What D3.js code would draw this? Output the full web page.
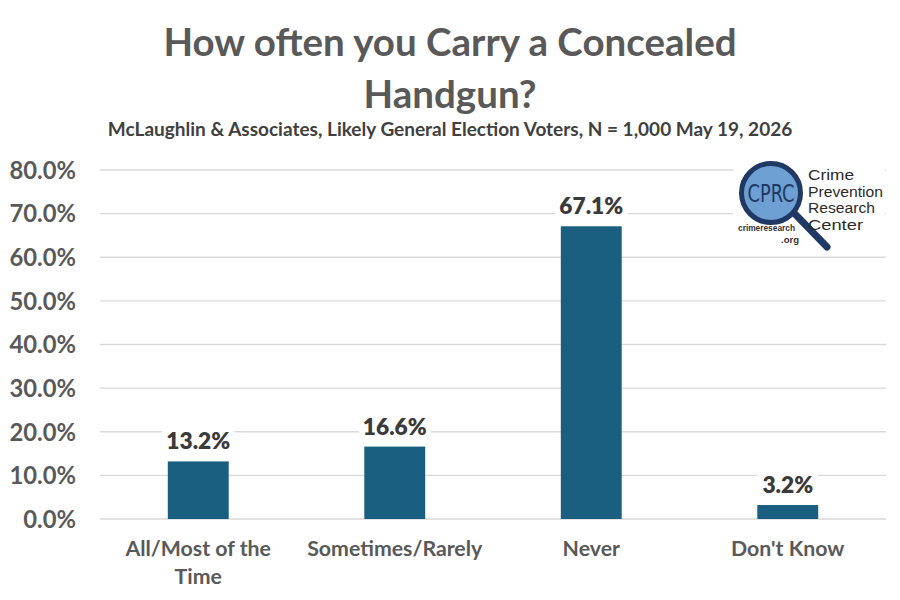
<!DOCTYPE html>
<html><head><meta charset="utf-8">
<script src="https://cdn.jsdelivr.net/npm/d3@7"></script>
<style>body{margin:0;background:#fff}svg{display:block}</style>
</head><body>
<svg id="c" width="900" height="600"></svg>
<script>
const categories = ["All/Most of the Time", "Sometimes/Rarely", "Never", "Don't Know"];
const categoryLines = [["All/Most of the", "Time"], ["Sometimes/Rarely"], ["Never"], ["Don't Know"]];
const values = [13.2, 16.6, 67.1, 3.2];
const yTicks = [0, 10, 20, 30, 40, 50, 60, 70, 80];
const titleLines = ["How often you Carry a Concealed", "Handgun?"];
const subtitle = "McLaughlin & Associates, Likely General Election Voters, N = 1,000 May 19, 2026";

const FONT = "Lato, 'Open Sans', sans-serif";
const svg = d3.select("#c");
const m = {left: 100, right: 886, top: 170, bottom: 519};
const x = d3.scaleBand().domain(categories).range([m.left, m.right]).paddingInner(0.69).paddingOuter(0.345);
const y = d3.scaleLinear().domain([0, 80]).range([m.bottom, m.top]);

// title
svg.append("g").selectAll("text").data(titleLines).join("text")
  .attr("x", 450).attr("y", (d, i) => 56 + i * 52)
  .attr("text-anchor", "middle").attr("font-family", FONT).attr("font-weight", 700)
  .attr("font-size", 38.5).attr("fill", "#595959").text(d => d);
svg.append("text").attr("x", 450).attr("y", 136).attr("text-anchor", "middle")
  .attr("font-family", FONT).attr("font-weight", 700).attr("font-size", 19)
  .attr("fill", "#404040").text(subtitle);

// grid
svg.append("g").selectAll("line").data(yTicks).join("line")
  .attr("x1", m.left).attr("x2", m.right)
  .attr("y1", d => y(d)).attr("y2", d => y(d))
  .attr("stroke", "#d9d9d9").attr("stroke-width", 1.3);

// y axis labels
const yAxis = d3.axisLeft(y).tickValues(yTicks).tickSize(0).tickPadding(0).tickFormat(d => d.toFixed(1) + "%");
const ya = svg.append("g").attr("transform", `translate(76,0)`).call(yAxis);
ya.select(".domain").remove();
ya.selectAll("text").attr("font-family", FONT).attr("font-weight", 700).attr("font-size", 23.8)
  .attr("fill", "#595959").attr("dy", "0.35em");

// bars
svg.append("g").selectAll("rect").data(values).join("rect")
  .attr("x", (d, i) => x(categories[i])).attr("width", x.bandwidth())
  .attr("y", d => y(d)).attr("height", d => y(0) - y(d))
  .attr("fill", "#1b5f80");

// value labels with white backgrounds
const lab = svg.append("g").selectAll("g").data(values).join("g")
  .attr("transform", (d, i) => `translate(${x(categories[i]) + x.bandwidth() / 2},${y(d) - 12})`);
lab.append("rect").attr("x", d => -(d.toFixed(1).length * 11.5 + 26) / 2).attr("y", -20)
  .attr("width", d => d.toFixed(1).length * 11.5 + 26).attr("height", 25).attr("fill", "#fff");
lab.append("text").attr("text-anchor", "middle").attr("font-family", FONT).attr("font-weight", 800)
  .attr("font-size", 22.7).attr("fill", "#3a3a3a").text(d => d.toFixed(1) + "%");

// category labels
const cl = svg.append("g").selectAll("text").data(categories).join("text")
  .attr("text-anchor", "middle").attr("font-family", FONT).attr("font-weight", 700)
  .attr("font-size", 21.3).attr("fill", "#595959");
cl.each(function(d, i) {
  const t = d3.select(this);
  categoryLines[i].forEach((line, j) => {
    t.append("tspan").attr("x", x(d) + x.bandwidth() / 2).attr("y", 556 + j * 28).text(line);
  });
});

// logo
const lg = svg.append("g");
lg.append("rect").attr("x", 733).attr("y", 160).attr("width", 152).attr("height", 96).attr("fill", "#fff");
lg.append("line").attr("x1", 795).attr("y1", 214).attr("x2", 827).attr("y2", 247)
  .attr("stroke", "#1f3864").attr("stroke-width", 7).attr("stroke-linecap", "round");
lg.append("circle").attr("cx", 771).attr("cy", 193).attr("r", 29.5)
  .attr("fill", "#6d9fd2").attr("stroke", "#1f3864").attr("stroke-width", 5);
lg.append("text").attr("x", 771).attr("y", 202).attr("text-anchor", "middle")
  .attr("font-family", "'Liberation Sans Narrow', 'DejaVu Sans Condensed', sans-serif").attr("font-size", 25)
  .attr("fill", "#1f3864").attr("textLength", 47).attr("lengthAdjust", "spacingAndGlyphs").text("CPRC");
const logoWords = ["Crime", "Prevention", "Research", "Center"];
const logoLens = [46, 75, 67, 55];
logoWords.forEach((t, i) => {
  lg.append("text").attr("x", 808).attr("y", 180 + i * 16.5).attr("font-family", "'Liberation Sans', Arial, sans-serif")
    .attr("font-size", 13.8).attr("fill", "#2b2b2b")
    .attr("textLength", logoLens[i]).attr("lengthAdjust", "spacingAndGlyphs").text(t);
});
lg.append("text").attr("x", 738).attr("y", 231).attr("font-family", "'Liberation Sans', Arial, sans-serif").attr("font-weight", 700)
  .attr("font-size", 9.5).attr("fill", "#333").attr("textLength", 57).attr("lengthAdjust", "spacingAndGlyphs").text("crimeresearch");
lg.append("text").attr("x", 781).attr("y", 243).attr("font-family", "'Liberation Sans', Arial, sans-serif").attr("font-weight", 700)
  .attr("font-size", 9.5).attr("fill", "#333").text(".org");
</script>
</body></html>
